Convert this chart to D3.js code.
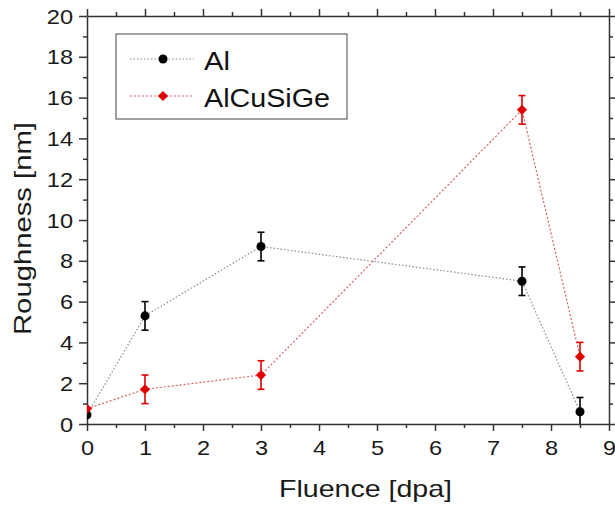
<!DOCTYPE html>
<html>
<head>
    <meta charset="UTF-8">
    <title>Roughness vs Fluence</title>
    <script src="https://d3js.org/d3.v7.min.js"></script>
    <style>
        body { margin: 0; background: #fff; }
        svg { font-family: "Liberation Sans", Arial, sans-serif; }
        .axis path, .axis line { stroke: #333; stroke-width: 1.5; }
        .axis text { fill: #1a1a1a; }
    </style>
</head>
<body>
<script>
    // data
    var fluence = [0, 1, 3, 7.5, 8.5]
    var alValues = [0.45, 5.3, 8.7, 7.0, 0.6]
    var alErrors = [0, 0.7, 0.7, 0.7, 0.7]
    var alcuValues = [0.75, 1.7, 2.4, 15.4, 3.3]
    var alcuErrors = [0, 0.7, 0.7, 0.7, 0.7]
    var seriesNames = ['Al', 'AlCuSiGe']
    var xTicks = [0, 1, 2, 3, 4, 5, 6, 7, 8, 9]
    var yTicks = [0, 2, 4, 6, 8, 10, 12, 14, 16, 18, 20]

    var W = 615, H = 509
    var pLeft = 87, pRight = 609, pTop = 16, pBottom = 424
    var stretch = 1.18

    var x = d3.scaleLinear().domain([0, 9]).range([pLeft, pRight])
    var y = d3.scaleLinear().domain([0, 20]).range([pBottom, pTop])

    var svg = d3.select('body').append('svg')
        .attr('width', W)
        .attr('height', H)

    svg.append('defs').append('clipPath')
        .attr('id', 'clip')
        .append('rect')
        .attr('x', pLeft).attr('y', pTop)
        .attr('width', pRight - pLeft).attr('height', pBottom - pTop)

    var xMinor = d3.range(0.5, 9, 1)
    var yMinor = d3.range(1, 20, 2)

    // minor ticks first, then main axes
    function minor(axis, vals, tr) {
        svg.append('g').attr('class', 'axis')
            .attr('transform', tr)
            .call(axis.tickValues(vals).tickFormat('').tickSizeOuter(0))
            .select('.domain').remove()
    }
    minor(d3.axisBottom(x).tickSize(4), xMinor, 'translate(0,' + pBottom + ')')
    minor(d3.axisBottom(x).tickSize(-4), xMinor, 'translate(0,' + pTop + ')')
    minor(d3.axisLeft(y).tickSize(4), yMinor, 'translate(' + pLeft + ',0)')
    minor(d3.axisLeft(y).tickSize(-4), yMinor, 'translate(' + pRight + ',0)')

    svg.append('g').attr('class', 'axis')
        .attr('transform', 'translate(0,' + pBottom + ')')
        .call(d3.axisBottom(x).tickValues(xTicks).tickSize(7).tickSizeOuter(0))
        .selectAll('text')
        .style('font-size', '20px')
        .attr('y', 31).attr('dy', null)
        .attr('transform', 'scale(' + stretch + ',1)')

    svg.append('g').attr('class', 'axis')
        .attr('transform', 'translate(0,' + pTop + ')')
        .call(d3.axisBottom(x).tickValues(xTicks).tickSize(-7).tickSizeOuter(0).tickFormat(''))

    svg.append('g').attr('class', 'axis')
        .attr('transform', 'translate(' + pLeft + ',0)')
        .call(d3.axisLeft(y).tickValues(yTicks).tickSize(8).tickSizeOuter(0))
        .selectAll('text')
        .style('font-size', '20px')
        .attr('x', -14 / stretch).attr('dy', '0.35em')
        .attr('transform', 'scale(' + stretch + ',1)')

    svg.append('g').attr('class', 'axis')
        .attr('transform', 'translate(' + pRight + ',0)')
        .call(d3.axisLeft(y).tickValues(yTicks).tickSize(-8).tickSizeOuter(0).tickFormat(''))

    // axis titles
    svg.append('text')
        .attr('x', 279).attr('y', 497)
        .attr('textLength', 173).attr('lengthAdjust', 'spacingAndGlyphs')
        .style('font-size', '24px').attr('fill', '#1a1a1a')
        .text('Fluence [dpa]')

    svg.append('text')
        .attr('transform', 'translate(31,335) rotate(-90)')
        .attr('textLength', 213).attr('lengthAdjust', 'spacingAndGlyphs')
        .style('font-size', '24px').attr('fill', '#1a1a1a')
        .text('Roughness [nm]')

    var plot = svg.append('g').attr('clip-path', 'url(#clip)')

    function makeData(vals, errs) {
        return fluence.map(function (f, i) { return { x: f, y: vals[i], e: errs[i] } })
    }

    var line = d3.line().x(function (d) { return x(d.x) }).y(function (d) { return y(d.y) })

    function drawSeries(data, lineColor, dash, color, symbol, rot) {
        plot.append('path')
            .datum(data)
            .attr('d', line)
            .attr('fill', 'none')
            .attr('stroke', lineColor)
            .attr('stroke-width', 1.2)
            .attr('stroke-dasharray', dash)

        var eb = plot.append('g').selectAll('g')
            .data(data.filter(function (d) { return d.e > 0 }))
            .enter().append('g')
            .attr('stroke', color).attr('stroke-width', 1.6)
        eb.append('line')
            .attr('x1', function (d) { return x(d.x) }).attr('x2', function (d) { return x(d.x) })
            .attr('y1', function (d) { return y(d.y - d.e) }).attr('y2', function (d) { return y(d.y + d.e) })
        eb.append('line')
            .attr('x1', function (d) { return x(d.x) - 3.5 }).attr('x2', function (d) { return x(d.x) + 3.5 })
            .attr('y1', function (d) { return y(d.y + d.e) }).attr('y2', function (d) { return y(d.y + d.e) })
        eb.append('line')
            .attr('x1', function (d) { return x(d.x) - 3.5 }).attr('x2', function (d) { return x(d.x) + 3.5 })
            .attr('y1', function (d) { return y(d.y - d.e) }).attr('y2', function (d) { return y(d.y - d.e) })

        plot.append('g').selectAll('path')
            .data(data)
            .enter().append('path')
            .attr('transform', function (d) {
                return 'translate(' + x(d.x) + ',' + y(d.y) + ') rotate(' + rot + ')'
            })
            .attr('d', symbol)
            .attr('fill', color)
    }

    var circle = d3.symbol().type(d3.symbolCircle).size(64)
    var diamond = d3.symbol().type(d3.symbolSquare).size(52)

    drawSeries(makeData(alValues, alErrors), '#8a8a8a', '1.5,2', '#000', circle, 0)
    drawSeries(makeData(alcuValues, alcuErrors), '#d86060', '2,2', '#e00000', diamond, 45)

    // legend
    var legend = svg.append('g')
    legend.append('rect')
        .attr('x', 116).attr('y', 34)
        .attr('width', 231).attr('height', 85)
        .attr('fill', '#fff').attr('stroke', '#444').attr('stroke-width', 1)

    var legendItems = [
        { name: seriesNames[0], lc: '#8a8a8a', dash: '1.5,2', c: '#000', sym: circle, rot: 0, y: 59, len: 26 },
        { name: seriesNames[1], lc: '#d86060', dash: '2,2', c: '#e00000', sym: diamond, rot: 45, y: 96, len: 126 }
    ]
    var li = legend.selectAll('.item').data(legendItems).enter().append('g')
    li.append('line')
        .attr('x1', 130).attr('x2', 194)
        .attr('y1', function (d) { return d.y }).attr('y2', function (d) { return d.y })
        .attr('stroke', function (d) { return d.lc })
        .attr('stroke-width', 1.2)
        .attr('stroke-dasharray', function (d) { return d.dash })
    li.append('path')
        .attr('transform', function (d) { return 'translate(163,' + d.y + ') rotate(' + d.rot + ')' })
        .attr('d', function (d) { return d.sym() })
        .attr('fill', function (d) { return d.c })
    li.append('text')
        .attr('x', 204).attr('y', function (d) { return d.y + 11 })
        .attr('textLength', function (d) { return d.len })
        .attr('lengthAdjust', 'spacingAndGlyphs')
        .style('font-size', '25px').attr('fill', '#111')
        .text(function (d) { return d.name })
</script>
</body>
</html>
